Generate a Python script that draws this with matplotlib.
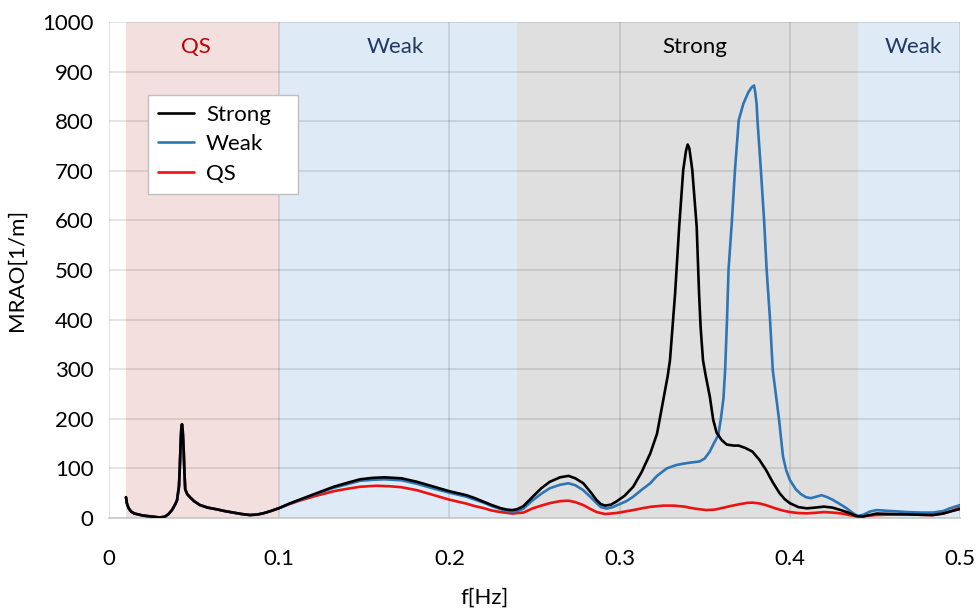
import matplotlib
matplotlib.use('Agg')
import matplotlib.pyplot as plt

plt.rcParams['font.family'] = ['Lato', 'DejaVu Sans']

# low-frequency part, identical for the three cases
freq_low = [0.0100, 0.0105, 0.0115, 0.0130, 0.0150, 0.0200, 0.0250, 0.0300,
            0.0330, 0.0350, 0.0370, 0.0390, 0.0400, 0.0411, 0.0416, 0.0421,
            0.0425, 0.0429, 0.0433, 0.0439, 0.0443, 0.0448, 0.0460, 0.0476,
            0.0500, 0.0535, 0.0580, 0.0633, 0.0680, 0.0730, 0.0780, 0.0828,
            0.0870, 0.0907, 0.0950, 0.1000]
mrao_low = [42, 30, 20, 13, 9, 5, 3, 1,
            3, 8, 16, 28, 36, 63, 100, 150,
            180, 189, 178, 137, 95, 58, 48, 42,
            34, 26, 21, 17.5, 14, 11, 8, 6,
            7, 9.5, 14, 20]

# Strong case, f > 0.1 Hz
freq_strong_hi = [0.106, 0.112, 0.122, 0.132, 0.140, 0.1475, 0.155, 0.162,
                  0.172, 0.181, 0.190, 0.200, 0.210, 0.215, 0.220, 0.225,
                  0.230, 0.2337, 0.237, 0.240, 0.2435, 0.249, 0.254, 0.259,
                  0.265, 0.270, 0.274, 0.2787, 0.283, 0.2865, 0.289, 0.2915,
                  0.295, 0.298, 0.303, 0.308, 0.313, 0.318, 0.322, 0.3255,
                  0.3282, 0.3296, 0.3311, 0.3326, 0.335, 0.3374, 0.339, 0.340,
                  0.341, 0.3427, 0.3453, 0.3467, 0.3476, 0.349, 0.3507, 0.353,
                  0.355, 0.357, 0.360, 0.363, 0.367, 0.370, 0.374, 0.378,
                  0.382, 0.386, 0.390, 0.394, 0.397, 0.400, 0.405, 0.410,
                  0.415, 0.420, 0.425, 0.430, 0.435, 0.439, 0.443, 0.447,
                  0.451, 0.460, 0.469, 0.477, 0.484, 0.490, 0.494, 0.500]
mrao_strong_hi = [29, 37, 50, 63, 71, 78, 81, 82,
                  80, 73, 64, 54, 46, 40, 33, 26,
                  20, 17, 16, 18, 24, 43, 60, 73,
                  82, 85, 80, 70, 52, 36, 28, 25,
                  27, 33, 45, 63, 93, 130, 170, 235,
                  285, 318, 385, 452, 587, 702, 740, 753,
                  745, 702, 587, 452, 385, 318, 285, 245,
                  198, 172, 157, 148, 146, 146, 141, 134,
                  118, 97, 72, 50, 38, 30, 22, 19.5,
                  21, 23, 21, 16, 10, 4, 3, 6,
                  9, 8, 7.4, 6.5, 6, 9, 13, 18]

# Weak case, f > 0.1 Hz
freq_weak_hi = [0.106, 0.112, 0.122, 0.132, 0.140, 0.1475, 0.155, 0.162,
                0.172, 0.181, 0.190, 0.200, 0.210, 0.215, 0.220, 0.225,
                0.230, 0.2337, 0.237, 0.240, 0.2435, 0.249, 0.254, 0.259,
                0.265, 0.270, 0.274, 0.2787, 0.283, 0.2865, 0.289, 0.2924,
                0.296, 0.300, 0.304, 0.308, 0.313, 0.318, 0.322, 0.3277,
                0.3335, 0.340, 0.347, 0.350, 0.353, 0.355, 0.358, 0.3595,
                0.361, 0.362, 0.3631, 0.364, 0.366, 0.3678, 0.370, 0.3727,
                0.3756, 0.3775, 0.379, 0.3797, 0.3805, 0.381, 0.383, 0.3849,
                0.3864, 0.3884, 0.390, 0.3937, 0.396, 0.398, 0.400, 0.4035,
                0.4066, 0.4095, 0.4124, 0.4155, 0.4187, 0.422, 0.4256, 0.430,
                0.4334, 0.437, 0.440, 0.4435, 0.447, 0.451, 0.460, 0.469,
                0.477, 0.484, 0.490, 0.494, 0.500]
mrao_weak_hi = [29, 36, 49, 61, 68, 75, 77, 78,
                76, 69, 60, 51, 43, 37, 31, 24,
                18, 14, 13, 14, 19, 36, 49, 60,
                67, 70, 66, 56, 42, 30, 22, 19,
                22, 28, 34, 43, 57, 70, 85, 100,
                107, 111, 114, 120, 134, 148, 167, 200,
                240, 298, 399, 500, 600, 702, 802, 835,
                858, 868, 872, 858, 835, 802, 702, 600,
                500, 399, 298, 198, 124, 95, 77, 58,
                48, 42, 40, 43, 46, 42, 36, 27,
                19.5, 10, 4, 7, 13, 16, 14, 12,
                11, 11, 14, 19.5, 26]

# QS case, f > 0.1 Hz
freq_qs_hi = [0.106, 0.112, 0.122, 0.132, 0.140, 0.1475, 0.157, 0.165,
              0.172, 0.181, 0.190, 0.200, 0.210, 0.215, 0.220, 0.225,
              0.230, 0.237, 0.2435, 0.249, 0.254, 0.259, 0.265, 0.270,
              0.274, 0.2787, 0.283, 0.2865, 0.2915, 0.298, 0.303, 0.308,
              0.313, 0.318, 0.3257, 0.332, 0.338, 0.344, 0.351, 0.356,
              0.360, 0.365, 0.3707, 0.375, 0.378, 0.382, 0.386, 0.391,
              0.396, 0.400, 0.405, 0.410, 0.415, 0.420, 0.425, 0.430,
              0.435, 0.440, 0.445, 0.451, 0.460, 0.469, 0.477, 0.484,
              0.490, 0.494, 0.500]
mrao_qs_hi = [28, 35, 45, 54, 59, 63, 65, 64,
              62, 56, 47, 37, 29, 24, 20, 15,
              12, 9, 11, 19.5, 25, 30, 34, 35,
              32, 26, 18, 12, 8, 10, 13, 16,
              19.5, 22.5, 25, 25, 23, 19, 16, 17,
              20, 24, 28, 30.5, 31, 29.5, 26, 20,
              15, 12, 10, 9.4, 10.5, 12, 11, 9.4,
              6, 3, 4.5, 6, 7, 7.4, 6.5, 6,
              9, 12.8, 21]

# shaded regimes along the frequency axis
region_edges = [(0.01, 0.10), (0.10, 0.24), (0.24, 0.44), (0.44, 0.50)]
region_names = ['QS', 'Weak', 'Strong', 'Weak']
region_label_x = [0.051, 0.168, 0.344, 0.4725]
region_fill = ['#F4DFDF', '#DEEBF6', '#DFDFDF', '#DEEBF6']
region_text = ['#C00000', '#1F3864', '#000000', '#1F3864']

xticks = [0, 0.1, 0.2, 0.3, 0.4, 0.5]
xtick_labels = ['0', '0.1', '0.2', '0.3', '0.4', '0.5']
yticks = list(range(0, 1001, 100))

fig = plt.figure(figsize=(9.79, 6.09), dpi=100)
ax = fig.add_axes([0.1113, 0.1494, 0.8693, 0.8145])

for (x0, x1), c in zip(region_edges, region_fill):
    ax.axvspan(x0, x1, color=c, lw=0, zorder=0)
for name, xc, tc in zip(region_names, region_label_x, region_text):
    ax.text(xc, 950, name, color=tc, fontsize=16, ha='center', va='center')

line_kw = dict(lw=1.9, solid_joinstyle='round', solid_capstyle='round')
ax.plot(freq_low + freq_qs_hi, mrao_low + mrao_qs_hi,
        color='#EE1111', label='QS', zorder=3, **line_kw)
ax.plot(freq_low + freq_weak_hi, mrao_low + mrao_weak_hi,
        color='#2E75B6', label='Weak', zorder=4, **line_kw)
ax.plot(freq_low + freq_strong_hi, mrao_low + mrao_strong_hi,
        color='black', label='Strong', zorder=5, **line_kw)

ax.set_xlim(0, 0.5)
ax.set_ylim(0, 1000)
ax.set_xticks(xticks)
ax.set_xticklabels(xtick_labels)
ax.set_yticks(yticks)
ax.tick_params(axis='both', length=0, labelsize=16)
ax.tick_params(axis='x', pad=22)
ax.tick_params(axis='y', pad=11)

ax.set_axisbelow(True)
ax.grid(True, color='black', alpha=0.12, lw=1.2)
for side in ['left', 'right', 'top']:
    ax.spines[side].set_visible(False)
ax.spines['bottom'].set_color('#C8C8C8')
ax.spines['bottom'].set_linewidth(1.2)

ax.set_xlabel('f[Hz]', fontsize=16)
ax.xaxis.set_label_coords(0.442, -0.14)
ax.set_ylabel('MRAO[1/m]', fontsize=16)
ax.yaxis.set_label_coords(-0.097, 0.5)

# legend in Strong / Weak / QS order
handles, labels = ax.get_legend_handles_labels()
order = [2, 1, 0]
leg = ax.legend([handles[i] for i in order], [labels[i] for i in order],
                loc='upper left', bbox_to_anchor=(0.046, 0.853, 0.176, 0.0),
                mode='expand', fontsize=16, fancybox=False, framealpha=1,
                handlelength=1.6, handletextpad=0.55, labelspacing=0.42,
                borderpad=0.45, borderaxespad=0)
leg.get_frame().set_edgecolor('#BFBFBF')
leg.get_frame().set_linewidth(1.0)

fig.savefig('out.png', dpi=100)
plt.close(fig)
